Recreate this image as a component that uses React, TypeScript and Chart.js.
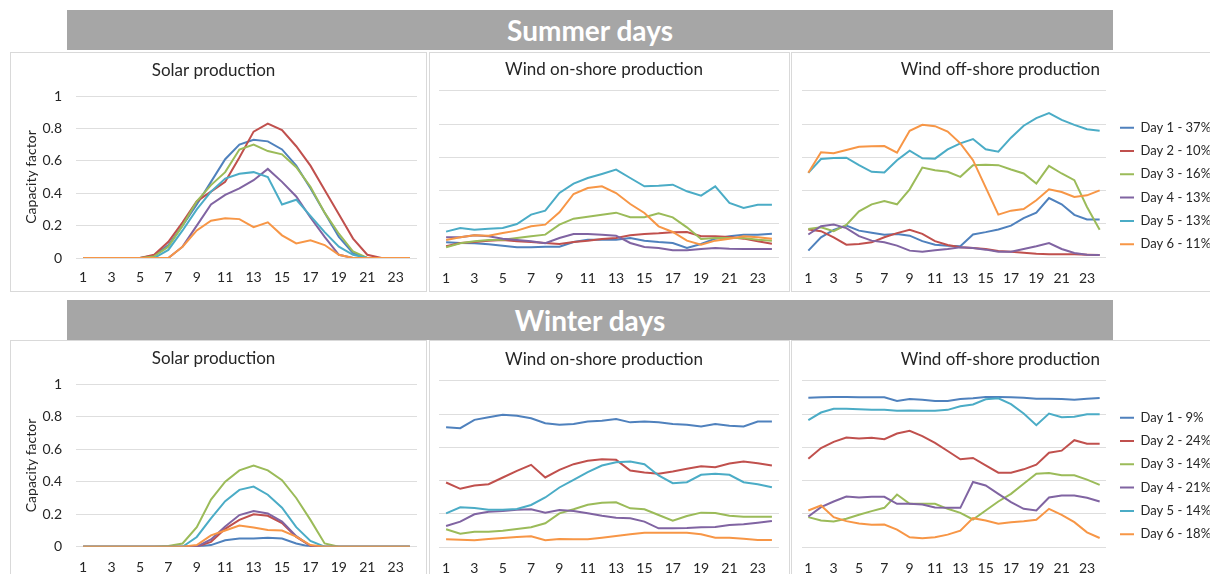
import React, { useEffect, useRef } from 'react';
import { Chart, registerables } from 'chart.js';

Chart.register(...registerables);

const hours = ['1', '2', '3', '4', '5', '6', '7', '8', '9', '10', '11', '12', '13', '14', '15', '16', '17', '18', '19', '20', '21', '22', '23', '24'];
const yTicks = [0, 0.2, 0.4, 0.6, 0.8, 1];
const seriesColors = ['#4F81BD', '#C0504D', '#9BBB59', '#8064A2', '#4BACC6', '#F79646'];

const summerLegend = ['Day 1 - 37%', 'Day 2 - 10%', 'Day 3 - 16%', 'Day 4 - 13%', 'Day 5 - 13%', 'Day 6 - 11%'];
const winterLegend = ['Day 1 - 9%', 'Day 2 - 24%', 'Day 3 - 14%', 'Day 4 - 21%', 'Day 5 - 14%', 'Day 6 - 18%'];

const summerSolar = [
  [0, 0, 0, 0, 0, 0.015, 0.08, 0.2, 0.33, 0.47, 0.61, 0.7, 0.73, 0.72, 0.67, 0.57, 0.43, 0.28, 0.13, 0.03, 0, 0, 0, 0],
  [0, 0, 0, 0, 0, 0.02, 0.1, 0.22, 0.35, 0.41, 0.47, 0.62, 0.78, 0.83, 0.79, 0.69, 0.57, 0.42, 0.27, 0.12, 0.02, 0, 0, 0],
  [0, 0, 0, 0, 0, 0.01, 0.07, 0.2, 0.35, 0.45, 0.53, 0.67, 0.7, 0.66, 0.64, 0.56, 0.44, 0.28, 0.15, 0.04, 0, 0, 0, 0],
  [0, 0, 0, 0, 0, 0, 0, 0.07, 0.2, 0.33, 0.39, 0.43, 0.48, 0.55, 0.47, 0.38, 0.25, 0.13, 0.02, 0, 0, 0, 0, 0],
  [0, 0, 0, 0, 0, 0, 0.05, 0.17, 0.3, 0.41, 0.49, 0.52, 0.53, 0.5, 0.33, 0.36, 0.26, 0.16, 0.07, 0.02, 0, 0, 0, 0],
  [0, 0, 0, 0, 0, 0, 0, 0.07, 0.17, 0.23, 0.245, 0.24, 0.19, 0.22, 0.14, 0.09, 0.11, 0.08, 0.02, 0, 0, 0, 0, 0],
];

const summerOnshore = [
  [0.09, 0.086, 0.084, 0.078, 0.07, 0.06, 0.06, 0.064, 0.064, 0.092, 0.106, 0.106, 0.106, 0.116, 0.1, 0.092, 0.086, 0.056, 0.08, 0.112, 0.126, 0.136, 0.136, 0.142],
  [0.066, 0.086, 0.092, 0.1, 0.104, 0.096, 0.092, 0.086, 0.08, 0.092, 0.1, 0.11, 0.116, 0.132, 0.14, 0.144, 0.15, 0.152, 0.126, 0.126, 0.122, 0.112, 0.096, 0.082],
  [0.06, 0.084, 0.096, 0.104, 0.106, 0.116, 0.126, 0.136, 0.196, 0.232, 0.244, 0.256, 0.268, 0.24, 0.24, 0.264, 0.24, 0.18, 0.11, 0.116, 0.116, 0.116, 0.106, 0.1],
  [0.12, 0.12, 0.132, 0.126, 0.112, 0.104, 0.096, 0.084, 0.116, 0.14, 0.14, 0.136, 0.13, 0.086, 0.062, 0.056, 0.042, 0.042, 0.05, 0.056, 0.052, 0.05, 0.05, 0.05],
  [0.154, 0.176, 0.166, 0.172, 0.176, 0.2, 0.256, 0.28, 0.386, 0.442, 0.476, 0.5, 0.526, 0.476, 0.426, 0.43, 0.436, 0.396, 0.37, 0.426, 0.326, 0.296, 0.316, 0.316],
  [0.104, 0.12, 0.132, 0.13, 0.146, 0.16, 0.186, 0.196, 0.27, 0.38, 0.416, 0.426, 0.386, 0.32, 0.266, 0.186, 0.152, 0.1, 0.076, 0.1, 0.112, 0.126, 0.12, 0.112],
];

const summerOffshore = [
  [0.04, 0.12, 0.165, 0.19, 0.16, 0.147, 0.135, 0.14, 0.13, 0.097, 0.076, 0.07, 0.066, 0.137, 0.151, 0.167, 0.19, 0.235, 0.268, 0.356, 0.318, 0.255, 0.227, 0.227],
  [0.167, 0.157, 0.12, 0.076, 0.08, 0.09, 0.12, 0.145, 0.165, 0.141, 0.097, 0.074, 0.06, 0.056, 0.05, 0.038, 0.034, 0.028, 0.022, 0.018, 0.018, 0.018, 0.016, 0.014],
  [0.17, 0.18, 0.157, 0.195, 0.276, 0.318, 0.338, 0.318, 0.408, 0.539, 0.523, 0.513, 0.483, 0.553, 0.555, 0.553, 0.527, 0.503, 0.443, 0.549, 0.503, 0.463, 0.302, 0.165],
  [0.137, 0.187, 0.197, 0.175, 0.127, 0.1, 0.09, 0.07, 0.04, 0.034, 0.042, 0.05, 0.06, 0.056, 0.046, 0.034, 0.034, 0.05, 0.066, 0.085, 0.05, 0.026, 0.016, 0.014],
  [0.507, 0.59, 0.596, 0.598, 0.553, 0.513, 0.509, 0.583, 0.64, 0.594, 0.592, 0.648, 0.684, 0.71, 0.648, 0.634, 0.718, 0.79, 0.835, 0.865, 0.825, 0.795, 0.769, 0.759],
  [0.507, 0.63, 0.624, 0.644, 0.664, 0.666, 0.668, 0.628, 0.759, 0.795, 0.787, 0.755, 0.684, 0.583, 0.42, 0.256, 0.28, 0.29, 0.342, 0.408, 0.392, 0.362, 0.372, 0.402],
];

const winterSolar = [
  [0, 0, 0, 0, 0, 0, 0, 0, 0, 0.01, 0.04, 0.05, 0.05, 0.055, 0.05, 0.02, 0, 0, 0, 0, 0, 0, 0, 0],
  [0, 0, 0, 0, 0, 0, 0, 0, 0, 0.03, 0.11, 0.165, 0.2, 0.19, 0.145, 0.06, 0.005, 0, 0, 0, 0, 0, 0, 0],
  [0, 0, 0, 0, 0, 0, 0.005, 0.02, 0.12, 0.29, 0.4, 0.47, 0.5, 0.47, 0.41, 0.3, 0.165, 0.02, 0, 0, 0, 0, 0, 0],
  [0, 0, 0, 0, 0, 0, 0, 0, 0, 0.045, 0.125, 0.195, 0.22, 0.205, 0.155, 0.065, 0.006, 0, 0, 0, 0, 0, 0, 0],
  [0, 0, 0, 0, 0, 0, 0, 0, 0.06, 0.175, 0.28, 0.35, 0.37, 0.32, 0.24, 0.12, 0.035, 0, 0, 0, 0, 0, 0, 0],
  [0, 0, 0, 0, 0, 0, 0, 0, 0.01, 0.07, 0.1, 0.13, 0.118, 0.103, 0.1, 0.062, 0.01, 0, 0, 0, 0, 0, 0, 0],
];

const winterOnshore = [
  [0.721, 0.715, 0.765, 0.78, 0.795, 0.79, 0.775, 0.745, 0.735, 0.74, 0.755, 0.76, 0.77, 0.75, 0.755, 0.75, 0.74, 0.735, 0.725, 0.74, 0.73, 0.725, 0.755, 0.755],
  [0.389, 0.351, 0.371, 0.379, 0.419, 0.459, 0.495, 0.419, 0.465, 0.499, 0.519, 0.529, 0.525, 0.461, 0.449, 0.441, 0.455, 0.471, 0.487, 0.481, 0.503, 0.515, 0.505, 0.491],
  [0.108, 0.082, 0.094, 0.094, 0.1, 0.11, 0.12, 0.144, 0.204, 0.228, 0.255, 0.267, 0.27, 0.234, 0.228, 0.194, 0.16, 0.188, 0.208, 0.206, 0.19, 0.184, 0.184, 0.184],
  [0.128, 0.154, 0.198, 0.214, 0.218, 0.226, 0.228, 0.208, 0.224, 0.218, 0.204, 0.19, 0.178, 0.174, 0.154, 0.114, 0.114, 0.116, 0.12, 0.122, 0.134, 0.138, 0.148, 0.158],
  [0.204, 0.24, 0.236, 0.226, 0.226, 0.23, 0.254, 0.299, 0.359, 0.405, 0.451, 0.491, 0.511, 0.515, 0.499, 0.431, 0.385, 0.391, 0.435, 0.441, 0.435, 0.391, 0.379, 0.361],
  [0.048, 0.046, 0.042, 0.05, 0.056, 0.062, 0.066, 0.042, 0.05, 0.048, 0.048, 0.058, 0.068, 0.078, 0.088, 0.088, 0.088, 0.088, 0.078, 0.058, 0.058, 0.052, 0.044, 0.044],
];

const winterOffshore = [
  [0.898, 0.9, 0.902, 0.902, 0.9, 0.9, 0.9, 0.878, 0.89, 0.886, 0.878, 0.878, 0.89, 0.894, 0.902, 0.902, 0.9, 0.898, 0.892, 0.892, 0.89, 0.886, 0.892, 0.896],
  [0.532, 0.596, 0.633, 0.659, 0.653, 0.657, 0.649, 0.683, 0.699, 0.667, 0.627, 0.578, 0.528, 0.536, 0.492, 0.448, 0.448, 0.468, 0.496, 0.568, 0.58, 0.643, 0.622, 0.622],
  [0.181, 0.161, 0.155, 0.171, 0.195, 0.217, 0.237, 0.317, 0.261, 0.261, 0.261, 0.231, 0.207, 0.167, 0.221, 0.275, 0.321, 0.382, 0.442, 0.446, 0.432, 0.432, 0.406, 0.375],
  [0.185, 0.241, 0.275, 0.305, 0.299, 0.303, 0.303, 0.261, 0.261, 0.257, 0.239, 0.237, 0.237, 0.392, 0.371, 0.321, 0.271, 0.231, 0.221, 0.299, 0.311, 0.311, 0.297, 0.275],
  [0.763, 0.809, 0.831, 0.831, 0.829, 0.825, 0.825, 0.819, 0.821, 0.819, 0.819, 0.825, 0.847, 0.857, 0.888, 0.894, 0.859, 0.803, 0.733, 0.803, 0.781, 0.783, 0.799, 0.799],
  [0.221, 0.251, 0.181, 0.157, 0.143, 0.135, 0.137, 0.106, 0.06, 0.054, 0.06, 0.076, 0.1, 0.175, 0.161, 0.141, 0.151, 0.157, 0.165, 0.231, 0.195, 0.151, 0.09, 0.056],
];

const TEXT = '#262626';
const GRID = '#dedede';
const FONT = 'Lato, "Open Sans", sans-serif';

type PanelCfg = {
  left: number; top: number; width: number; height: number;
  title: string; series: number[][]; legend?: string[];
  yWidth: number; padRight: number; xHeight: number; xPad: number;
  titleTop: number; titleBottom: number; yLabels: boolean;
  legendTitlePad?: number; y2Width?: number;
};

function Panel({ cfg }: { cfg: PanelCfg }) {
  const ref = useRef<HTMLCanvasElement>(null);
  useEffect(() => {
    const canvas = ref.current;
    if (!canvas) return;
    const names = cfg.legend || summerLegend;
    const datasets = cfg.series.map((d, i) => ({
      label: names[i],
      data: d,
      borderColor: seriesColors[i],
      backgroundColor: seriesColors[i],
      borderWidth: 2,
      pointRadius: 0,
      pointHoverRadius: 0,
      tension: 0,
      fill: false,
      order: 10 - i,
    }));
    const scales: any = {
      x: {
        type: 'category',
        offset: true,
        grid: { display: false, drawTicks: false },
        border: { display: false },
        ticks: {
          autoSkip: false,
          maxRotation: 0,
          minRotation: 0,
          padding: cfg.xPad,
          color: TEXT,
          font: { family: FONT, size: 14 },
          callback: (_v: any, i: number) => (i % 2 === 0 ? hours[i] : ''),
        },
        afterFit: (s: any) => { s.height = cfg.xHeight; },
      },
      y: {
        type: 'linear',
        min: yTicks[0],
        max: yTicks[yTicks.length - 1],
        grid: { color: GRID, lineWidth: 1, drawTicks: false },
        border: { display: false },
        ticks: {
          display: cfg.yLabels,
          stepSize: 0.2,
          padding: 14,
          color: TEXT,
          font: { family: FONT, size: 14 },
          callback: (v: any) => String(Math.round(Number(v) * 10) / 10),
        },
        title: {
          display: cfg.yLabels,
          text: 'Capacity factor',
          color: TEXT,
          font: { family: FONT, size: 14 },
          padding: { top: 13.3, bottom: 0 },
        },
        afterFit: (s: any) => { s.width = cfg.yWidth; },
      },
    };
    if (cfg.legend) {
      scales.y2 = {
        type: 'linear',
        position: 'right',
        min: 0,
        max: 1,
        grid: { display: false, drawTicks: false },
        border: { display: false },
        ticks: { display: false },
        afterFit: (s: any) => { s.width = cfg.y2Width || 0; },
      };
    }
    const chart = new Chart(canvas, {
      type: 'line',
      data: { labels: hours, datasets },
      options: {
        responsive: false,
        animation: false,
        devicePixelRatio: 1,
        layout: { padding: { left: 0, right: cfg.padRight, top: 0, bottom: 0 } },
        scales,
        plugins: {
          tooltip: { enabled: false },
          title: {
            display: true,
            text: cfg.title,
            color: TEXT,
            font: { family: FONT, size: 17, weight: 'normal', lineHeight: 1.2 },
            padding: { top: cfg.titleTop, bottom: cfg.titleBottom },
          },
          legend: cfg.legend
            ? {
                display: true,
                position: 'right',
                align: 'start',
                maxWidth: 100,
                title: {
                  display: true,
                  text: ' ',
                  font: { family: FONT, size: 13, lineHeight: 1.2 },
                  padding: { top: cfg.legendTitlePad || 0, bottom: 0 },
                },
                labels: {
                  usePointStyle: true,
                  pointStyle: 'line',
                  pointStyleWidth: 14,
                  padding: 10.3,
                  color: TEXT,
                  font: { family: FONT, size: 13 },
                  sort: (a: any, b: any) => a.datasetIndex - b.datasetIndex,
                },
              }
            : { display: false },
        },
      } as any,
    });
    return () => chart.destroy();
  }, []);
  return (
    <>
      <div
        style={{
          position: 'absolute', left: cfg.left, top: cfg.top, width: cfg.width, height: cfg.height,
          border: '1px solid #d9d9d9', boxSizing: 'border-box', background: '#fff',
        }}
      />
      <canvas
        ref={ref}
        width={cfg.width}
        height={cfg.height}
        style={{ position: 'absolute', left: cfg.left, top: cfg.top, width: cfg.width, height: cfg.height }}
      />
    </>
  );
}

// title font 17px, lineHeight 20.4: padding top = centre - 10.2
const panels: PanelCfg[] = [
  { left: 10, top: 52, width: 417, height: 240, title: 'Solar production', series: summerSolar, yWidth: 66, padRight: 10, xHeight: 34, xPad: 10.6, titleTop: 8.8, titleBottom: 14.8, yLabels: true },
  { left: 429, top: 52, width: 361, height: 240, title: 'Wind on-shore production', series: summerOnshore, yWidth: 10, padRight: 11, xHeight: 34.7, xPad: 12.6, titleTop: 7.8, titleBottom: 10.5, yLabels: false },
  { left: 791, top: 52, width: 430, height: 240, title: 'Wind off-shore production', series: summerOffshore, legend: summerLegend, yWidth: 11, padRight: 11.3, y2Width: 3.7, xHeight: 34.7, xPad: 12.6, titleTop: 7.8, titleBottom: 10.5, yLabels: false, legendTitlePad: 43.3 },
  { left: 10, top: 340, width: 417, height: 241, title: 'Solar production', series: winterSolar, yWidth: 66, padRight: 10, xHeight: 34.3, xPad: 12.6, titleTop: 8.8, titleBottom: 15.1, yLabels: true },
  { left: 429, top: 340, width: 361, height: 241, title: 'Wind on-shore production', series: winterOnshore, yWidth: 10, padRight: 11, xHeight: 33.7, xPad: 12.6, titleTop: 9.8, titleBottom: 10.5, yLabels: false },
  { left: 791, top: 340, width: 430, height: 241, title: 'Wind off-shore production', series: winterOffshore, legend: winterLegend, yWidth: 11, padRight: 11.3, y2Width: 3.7, xHeight: 33.7, xPad: 12.6, titleTop: 9.8, titleBottom: 10.5, yLabels: false, legendTitlePad: 45.3 },
];

function Banner({ top, text }: { top: number; text: string }) {
  return (
    <div
      style={{
        position: 'absolute', left: 67, top, width: 1046, height: 40, background: '#a6a6a6',
        color: '#ffffff', fontFamily: FONT, fontWeight: 700, fontSize: 28,
        display: 'flex', alignItems: 'center', justifyContent: 'center', lineHeight: '40px',
      }}
    >
      {text}
    </div>
  );
}

export default function App() {
  return (
    <div style={{ position: 'absolute', left: 0, top: 0, width: 1210, height: 574, overflow: 'hidden', background: '#fff' }}>
      <Banner top={10} text="Summer days" />
      <Banner top={300} text="Winter days" />
      {panels.map((p, i) => (
        <Panel key={i} cfg={p} />
      ))}
    </div>
  );
}
